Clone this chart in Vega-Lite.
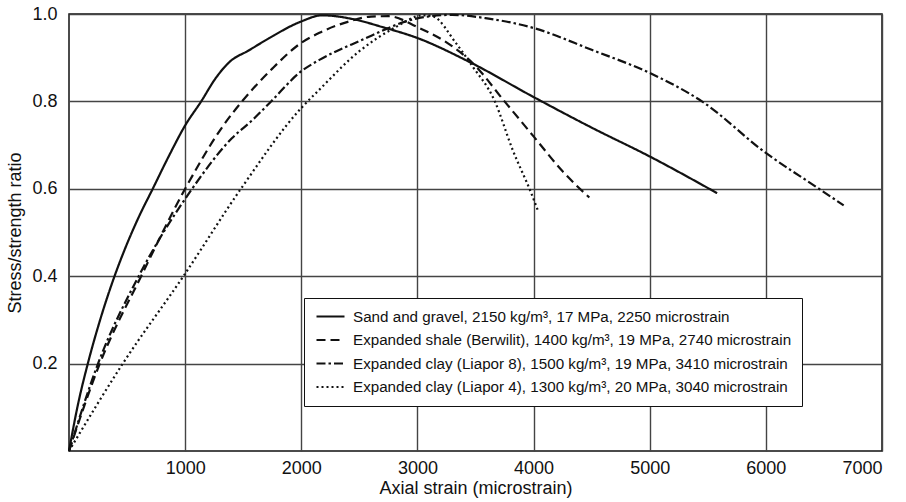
{
  "$schema": "https://vega.github.io/schema/vega-lite/v6.json",
  "width": 813,
  "height": 437,
  "autosize": {"type": "none"},
  "padding": {"left": 69, "top": 14, "right": 24, "bottom": 51},
  "background": "white",
  "config": {
    "view": {"stroke": "#111", "strokeWidth": 1.5},
    "font": "Liberation Sans"
  },
  "datasets": {
    "curves": [
      {"series": "Sand and gravel, 2150 kg/m³, 17 MPa, 2250 microstrain", "strain": 0, "ratio": 0},
      {"series": "Sand and gravel, 2150 kg/m³, 17 MPa, 2250 microstrain", "strain": 80, "ratio": 0.11},
      {"series": "Sand and gravel, 2150 kg/m³, 17 MPa, 2250 microstrain", "strain": 162, "ratio": 0.2},
      {"series": "Sand and gravel, 2150 kg/m³, 17 MPa, 2250 microstrain", "strain": 268, "ratio": 0.3},
      {"series": "Sand and gravel, 2150 kg/m³, 17 MPa, 2250 microstrain", "strain": 392, "ratio": 0.4},
      {"series": "Sand and gravel, 2150 kg/m³, 17 MPa, 2250 microstrain", "strain": 478, "ratio": 0.46},
      {"series": "Sand and gravel, 2150 kg/m³, 17 MPa, 2250 microstrain", "strain": 600, "ratio": 0.535},
      {"series": "Sand and gravel, 2150 kg/m³, 17 MPa, 2250 microstrain", "strain": 721, "ratio": 0.6},
      {"series": "Sand and gravel, 2150 kg/m³, 17 MPa, 2250 microstrain", "strain": 860, "ratio": 0.675},
      {"series": "Sand and gravel, 2150 kg/m³, 17 MPa, 2250 microstrain", "strain": 1000, "ratio": 0.745},
      {"series": "Sand and gravel, 2150 kg/m³, 17 MPa, 2250 microstrain", "strain": 1138, "ratio": 0.8},
      {"series": "Sand and gravel, 2150 kg/m³, 17 MPa, 2250 microstrain", "strain": 1260, "ratio": 0.852},
      {"series": "Sand and gravel, 2150 kg/m³, 17 MPa, 2250 microstrain", "strain": 1381, "ratio": 0.89},
      {"series": "Sand and gravel, 2150 kg/m³, 17 MPa, 2250 microstrain", "strain": 1550, "ratio": 0.917},
      {"series": "Sand and gravel, 2150 kg/m³, 17 MPa, 2250 microstrain", "strain": 1725, "ratio": 0.945},
      {"series": "Sand and gravel, 2150 kg/m³, 17 MPa, 2250 microstrain", "strain": 2000, "ratio": 0.983},
      {"series": "Sand and gravel, 2150 kg/m³, 17 MPa, 2250 microstrain", "strain": 2180, "ratio": 0.997},
      {"series": "Sand and gravel, 2150 kg/m³, 17 MPa, 2250 microstrain", "strain": 2450, "ratio": 0.988},
      {"series": "Sand and gravel, 2150 kg/m³, 17 MPa, 2250 microstrain", "strain": 2700, "ratio": 0.97},
      {"series": "Sand and gravel, 2150 kg/m³, 17 MPa, 2250 microstrain", "strain": 3000, "ratio": 0.945},
      {"series": "Sand and gravel, 2150 kg/m³, 17 MPa, 2250 microstrain", "strain": 3450, "ratio": 0.89},
      {"series": "Sand and gravel, 2150 kg/m³, 17 MPa, 2250 microstrain", "strain": 4000, "ratio": 0.81},
      {"series": "Sand and gravel, 2150 kg/m³, 17 MPa, 2250 microstrain", "strain": 4500, "ratio": 0.74},
      {"series": "Sand and gravel, 2150 kg/m³, 17 MPa, 2250 microstrain", "strain": 5000, "ratio": 0.674},
      {"series": "Sand and gravel, 2150 kg/m³, 17 MPa, 2250 microstrain", "strain": 5580, "ratio": 0.59},

      {"series": "Expanded shale (Berwilit), 1400 kg/m³, 19 MPa, 2740 microstrain", "strain": 0, "ratio": 0},
      {"series": "Expanded shale (Berwilit), 1400 kg/m³, 19 MPa, 2740 microstrain", "strain": 265, "ratio": 0.2},
      {"series": "Expanded shale (Berwilit), 1400 kg/m³, 19 MPa, 2740 microstrain", "strain": 621, "ratio": 0.4},
      {"series": "Expanded shale (Berwilit), 1400 kg/m³, 19 MPa, 2740 microstrain", "strain": 1000, "ratio": 0.6},
      {"series": "Expanded shale (Berwilit), 1400 kg/m³, 19 MPa, 2740 microstrain", "strain": 1324, "ratio": 0.743},
      {"series": "Expanded shale (Berwilit), 1400 kg/m³, 19 MPa, 2740 microstrain", "strain": 1496, "ratio": 0.802},
      {"series": "Expanded shale (Berwilit), 1400 kg/m³, 19 MPa, 2740 microstrain", "strain": 1750, "ratio": 0.875},
      {"series": "Expanded shale (Berwilit), 1400 kg/m³, 19 MPa, 2740 microstrain", "strain": 2000, "ratio": 0.934},
      {"series": "Expanded shale (Berwilit), 1400 kg/m³, 19 MPa, 2740 microstrain", "strain": 2156, "ratio": 0.957},
      {"series": "Expanded shale (Berwilit), 1400 kg/m³, 19 MPa, 2740 microstrain", "strain": 2400, "ratio": 0.982},
      {"series": "Expanded shale (Berwilit), 1400 kg/m³, 19 MPa, 2740 microstrain", "strain": 2600, "ratio": 0.994},
      {"series": "Expanded shale (Berwilit), 1400 kg/m³, 19 MPa, 2740 microstrain", "strain": 2750, "ratio": 0.995},
      {"series": "Expanded shale (Berwilit), 1400 kg/m³, 19 MPa, 2740 microstrain", "strain": 3000, "ratio": 0.97},
      {"series": "Expanded shale (Berwilit), 1400 kg/m³, 19 MPa, 2740 microstrain", "strain": 3250, "ratio": 0.935},
      {"series": "Expanded shale (Berwilit), 1400 kg/m³, 19 MPa, 2740 microstrain", "strain": 3475, "ratio": 0.888},
      {"series": "Expanded shale (Berwilit), 1400 kg/m³, 19 MPa, 2740 microstrain", "strain": 3750, "ratio": 0.8},
      {"series": "Expanded shale (Berwilit), 1400 kg/m³, 19 MPa, 2740 microstrain", "strain": 4000, "ratio": 0.72},
      {"series": "Expanded shale (Berwilit), 1400 kg/m³, 19 MPa, 2740 microstrain", "strain": 4250, "ratio": 0.64},
      {"series": "Expanded shale (Berwilit), 1400 kg/m³, 19 MPa, 2740 microstrain", "strain": 4480, "ratio": 0.58},

      {"series": "Expanded clay (Liapor 8), 1500 kg/m³, 19 MPa, 3410 microstrain", "strain": 0, "ratio": 0},
      {"series": "Expanded clay (Liapor 8), 1500 kg/m³, 19 MPa, 3410 microstrain", "strain": 250, "ratio": 0.2},
      {"series": "Expanded clay (Liapor 8), 1500 kg/m³, 19 MPa, 3410 microstrain", "strain": 600, "ratio": 0.4},
      {"series": "Expanded clay (Liapor 8), 1500 kg/m³, 19 MPa, 3410 microstrain", "strain": 1060, "ratio": 0.6},
      {"series": "Expanded clay (Liapor 8), 1500 kg/m³, 19 MPa, 3410 microstrain", "strain": 1400, "ratio": 0.715},
      {"series": "Expanded clay (Liapor 8), 1500 kg/m³, 19 MPa, 3410 microstrain", "strain": 1582, "ratio": 0.758},
      {"series": "Expanded clay (Liapor 8), 1500 kg/m³, 19 MPa, 3410 microstrain", "strain": 1740, "ratio": 0.8},
      {"series": "Expanded clay (Liapor 8), 1500 kg/m³, 19 MPa, 3410 microstrain", "strain": 2000, "ratio": 0.869},
      {"series": "Expanded clay (Liapor 8), 1500 kg/m³, 19 MPa, 3410 microstrain", "strain": 2156, "ratio": 0.895},
      {"series": "Expanded clay (Liapor 8), 1500 kg/m³, 19 MPa, 3410 microstrain", "strain": 2500, "ratio": 0.938},
      {"series": "Expanded clay (Liapor 8), 1500 kg/m³, 19 MPa, 3410 microstrain", "strain": 3000, "ratio": 0.99},
      {"series": "Expanded clay (Liapor 8), 1500 kg/m³, 19 MPa, 3410 microstrain", "strain": 3300, "ratio": 0.998},
      {"series": "Expanded clay (Liapor 8), 1500 kg/m³, 19 MPa, 3410 microstrain", "strain": 3600, "ratio": 0.99},
      {"series": "Expanded clay (Liapor 8), 1500 kg/m³, 19 MPa, 3410 microstrain", "strain": 4000, "ratio": 0.968},
      {"series": "Expanded clay (Liapor 8), 1500 kg/m³, 19 MPa, 3410 microstrain", "strain": 4500, "ratio": 0.918},
      {"series": "Expanded clay (Liapor 8), 1500 kg/m³, 19 MPa, 3410 microstrain", "strain": 5000, "ratio": 0.865},
      {"series": "Expanded clay (Liapor 8), 1500 kg/m³, 19 MPa, 3410 microstrain", "strain": 5450, "ratio": 0.8},
      {"series": "Expanded clay (Liapor 8), 1500 kg/m³, 19 MPa, 3410 microstrain", "strain": 6000, "ratio": 0.682},
      {"series": "Expanded clay (Liapor 8), 1500 kg/m³, 19 MPa, 3410 microstrain", "strain": 6430, "ratio": 0.605},
      {"series": "Expanded clay (Liapor 8), 1500 kg/m³, 19 MPa, 3410 microstrain", "strain": 6670, "ratio": 0.562},

      {"series": "Expanded clay (Liapor 4), 1300 kg/m³, 20 MPa, 3040 microstrain", "strain": 0, "ratio": 0},
      {"series": "Expanded clay (Liapor 4), 1300 kg/m³, 20 MPa, 3040 microstrain", "strain": 463, "ratio": 0.2},
      {"series": "Expanded clay (Liapor 4), 1300 kg/m³, 20 MPa, 3040 microstrain", "strain": 985, "ratio": 0.4},
      {"series": "Expanded clay (Liapor 4), 1300 kg/m³, 20 MPa, 3040 microstrain", "strain": 1480, "ratio": 0.6},
      {"series": "Expanded clay (Liapor 4), 1300 kg/m³, 20 MPa, 3040 microstrain", "strain": 2000, "ratio": 0.785},
      {"series": "Expanded clay (Liapor 4), 1300 kg/m³, 20 MPa, 3040 microstrain", "strain": 2156, "ratio": 0.827},
      {"series": "Expanded clay (Liapor 4), 1300 kg/m³, 20 MPa, 3040 microstrain", "strain": 2500, "ratio": 0.915},
      {"series": "Expanded clay (Liapor 4), 1300 kg/m³, 20 MPa, 3040 microstrain", "strain": 2800, "ratio": 0.968},
      {"series": "Expanded clay (Liapor 4), 1300 kg/m³, 20 MPa, 3040 microstrain", "strain": 3050, "ratio": 0.997},
      {"series": "Expanded clay (Liapor 4), 1300 kg/m³, 20 MPa, 3040 microstrain", "strain": 3130, "ratio": 0.995},
      {"series": "Expanded clay (Liapor 4), 1300 kg/m³, 20 MPa, 3040 microstrain", "strain": 3330, "ratio": 0.934},
      {"series": "Expanded clay (Liapor 4), 1300 kg/m³, 20 MPa, 3040 microstrain", "strain": 3475, "ratio": 0.88},
      {"series": "Expanded clay (Liapor 4), 1300 kg/m³, 20 MPa, 3040 microstrain", "strain": 3660, "ratio": 0.804},
      {"series": "Expanded clay (Liapor 4), 1300 kg/m³, 20 MPa, 3040 microstrain", "strain": 3820, "ratio": 0.689},
      {"series": "Expanded clay (Liapor 4), 1300 kg/m³, 20 MPa, 3040 microstrain", "strain": 3980, "ratio": 0.59},
      {"series": "Expanded clay (Liapor 4), 1300 kg/m³, 20 MPa, 3040 microstrain", "strain": 4035, "ratio": 0.552}
    ]
  },
  "data": {"name": "curves"},
  "mark": {"type": "line", "color": "#111", "strokeWidth": 2.2, "interpolate": "monotone"},
  "encoding": {
    "x": {
      "field": "strain",
      "type": "quantitative",
      "scale": {"domain": [0, 7000], "nice": false, "zero": false},
      "axis": {
        "values": [1000, 2000, 3000, 4000, 5000, 6000, 7000],
        "format": "d",
        "title": "Axial strain (microstrain)",
        "grid": true,
        "gridColor": "#444",
        "gridWidth": 1.4,
        "gridOpacity": 1,
        "ticks": false,
        "domain": false,
        "labelFontSize": 18,
        "labelColor": "#111",
        "labelPadding": 8,
        "titleFontSize": 18,
        "titleFontWeight": "normal",
        "titleColor": "#111",
        "titlePadding": 2
      }
    },
    "y": {
      "field": "ratio",
      "type": "quantitative",
      "scale": {"domain": [0, 1], "nice": false},
      "axis": {
        "values": [0.2, 0.4, 0.6, 0.8, 1.0],
        "format": ".1f",
        "title": "Stress/strength ratio",
        "grid": true,
        "gridColor": "#444",
        "gridWidth": 1.4,
        "gridOpacity": 1,
        "ticks": false,
        "domain": false,
        "labelFontSize": 18,
        "labelColor": "#111",
        "labelPadding": 12,
        "titleFontSize": 18,
        "titleFontWeight": "normal",
        "titleColor": "#111",
        "titlePadding": 7
      }
    },
    "strokeDash": {
      "field": "series",
      "type": "nominal",
      "scale": {
        "domain": [
          "Sand and gravel, 2150 kg/m³, 17 MPa, 2250 microstrain",
          "Expanded shale (Berwilit), 1400 kg/m³, 19 MPa, 2740 microstrain",
          "Expanded clay (Liapor 8), 1500 kg/m³, 19 MPa, 3410 microstrain",
          "Expanded clay (Liapor 4), 1300 kg/m³, 20 MPa, 3040 microstrain"
        ],
        "range": [[1, 0], [9, 5], [9, 3, 2.5, 3], [2, 3]]
      },
      "legend": {
        "orient": "none",
        "legendX": 235,
        "legendY": 284,
        "title": null,
        "strokeColor": "#111",
        "fillColor": "white",
        "padding": 10,
        "labelFont": "Liberation Sans",
        "labelFontSize": 15.2,
        "labelColor": "#111",
        "labelLimit": 0,
        "symbolType": "M-2,0H2",
        "symbolSize": 196,
        "symbolOffset": 8,
        "symbolStrokeWidth": 2.2,
        "symbolStrokeColor": "#111",
        "rowPadding": 6.5,
        "labelOffset": 14
      }
    }
  }
}
